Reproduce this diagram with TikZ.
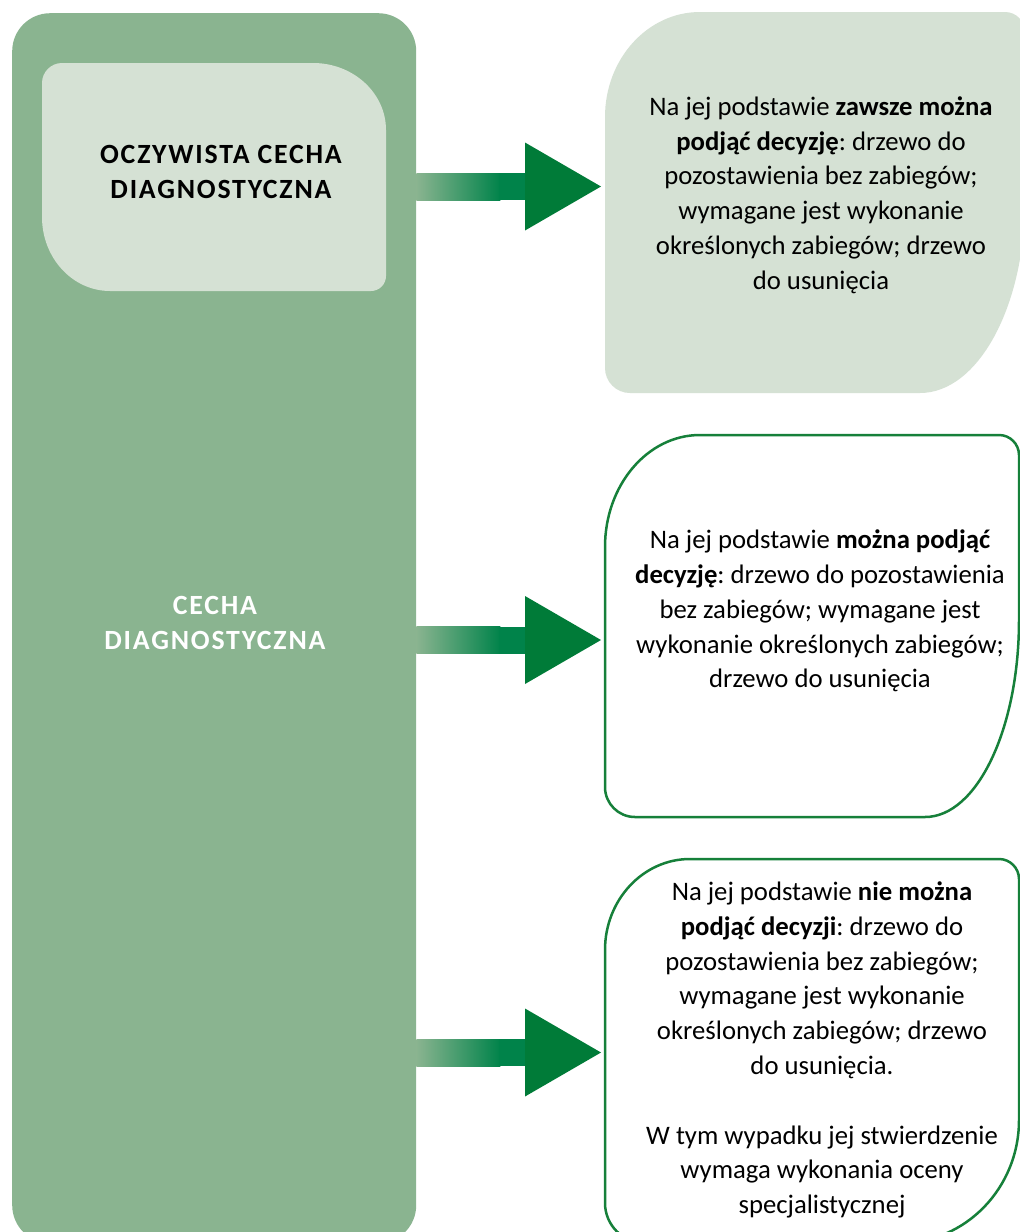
\documentclass[tikz,border=0pt]{standalone}
\usepackage{fontspec}
\setmainfont{Carlito}
\newfontfamily\headfont[LetterSpace=6.5]{Carlito}
\usetikzlibrary{calc}
\definecolor{midgreen}{HTML}{8AB490}
\definecolor{palegreen}{HTML}{D5E1D4}
\definecolor{headgreen}{HTML}{007B38}
\definecolor{shaftgreen}{HTML}{00834A}
\definecolor{linegreen}{HTML}{16803A}
\begin{document}
\frenchspacing
\begin{tikzpicture}[x=1pt,y=-1pt,
  bodytext/.style={align=center, font=\fontsize{26.7}{34.8}\selectfont, inner sep=0pt, text=black},
  headtext/.style={align=center, font=\headfont\fontsize{27.8}{35}\selectfont\bfseries, inner sep=0pt},
  outlinebox/.style={draw=linegreen, line width=2.5pt, fill=white},
  palebox/.style={fill=palegreen},
]
\useasboundingbox (0,0) rectangle (1020,1232);
\clip (0,0) rectangle (1020,1232);
\fill[white] (0,0) rectangle (1020,1232);
% main column
\node[fill=midgreen, rounded corners=38pt, minimum width=404pt, minimum height=1230pt, anchor=north west, inner sep=0pt] (main) at (12,13) {};
% inner pale box
\path[palebox] (62,63) -- (313,63) .. controls (353.3,63) and (386,93) .. (386,130) -- (386,276) .. controls (386,284.3) and (379.3,291) .. (371,291) -- (110,291) .. controls (72.5,291) and (42,257.9) .. (42,217) -- (42,83) .. controls (42,72) and (51,63) .. (62,63) -- cycle;
% right box 1
\path[palebox] (700,12) -- (1005,12) .. controls (1016,12) and (1025,21) .. (1025,32) -- (1025,200) .. controls (1025,306.6) and (978,393) .. (920,393) -- (630,393) .. controls (616.2,393) and (605,381.8) .. (605,368) -- (605,117) .. controls (605,59) and (647.5,12) .. (700,12) -- cycle;
% right box 2
\path[outlinebox] (700,435) -- (999,435) .. controls (1010,435) and (1019,444) .. (1019,455) -- (1019,620) .. controls (1019,728.8) and (976.9,817) .. (925,817) -- (635,817) .. controls (618.4,817) and (605,803.6) .. (605,787) -- (605,547) .. controls (605,485.1) and (647.5,435) .. (700,435) -- cycle;
% right box 3
\path[outlinebox] (690,859) -- (999,859) .. controls (1010,859) and (1019,868) .. (1019,879) -- (1019,1120) .. controls (1019,1187.9) and (965.7,1243) .. (900,1243) -- (645,1243) .. controls (622.9,1243) and (605,1225.1) .. (605,1203) -- (605,950) .. controls (605,899.8) and (643.1,859) .. (690,859) -- cycle;
% box entry points
\coordinate (b1) at (605,186.5);
\coordinate (b2) at (605,640);
\coordinate (b3) at (605,1052.5);
% arrows
\foreach \t in {b1,b2,b3}{
  \shade[left color=midgreen, right color=shaftgreen] ($(main.east |- \t)+(0,-13.5)$) rectangle ($(main.east |- \t)+(84,13.5)$);
  \fill[shaftgreen] ($(main.east |- \t)+(83,-13.5)$) rectangle ($(\t)+(-78,13.5)$);
  \fill[headgreen] ($(\t)+(-80,-44)$) -- ($(\t)+(-4,0)$) -- ($(\t)+(-80,44)$) -- cycle;
}
% texts
\node[headtext] (oczy) at (221,172) {OCZYWISTA CECHA\\DIAGNOSTYCZNA};
\node[headtext, text=white] (cecha) at (215,623) {CECHA\\DIAGNOSTYCZNA};
\node[bodytext] (t1) at (821,195) {Na jej podstawie \textbf{zawsze można}\\\textbf{podjąć decyzję}: drzewo do\\pozostawienia bez zabiegów;\\wymagane jest wykonanie\\określonych zabiegów; drzewo\\do usunięcia};
\node[bodytext] (t2) at (820,611) {Na jej podstawie \textbf{można podjąć}\\\textbf{decyzję}: drzewo do pozostawienia\\bez zabiegów; wymagane jest\\wykonanie określonych zabiegów;\\drzewo do usunięcia};
\node[bodytext] (t3) at (822,1050) {Na jej podstawie \textbf{nie można}\\\textbf{podjąć decyzji}: drzewo do\\pozostawienia bez zabiegów;\\wymagane jest wykonanie\\określonych zabiegów; drzewo\\do usunięcia.\\[34.8pt]W tym wypadku jej stwierdzenie\\wymaga wykonania oceny\\specjalistycznej};
\end{tikzpicture}
\end{document}
